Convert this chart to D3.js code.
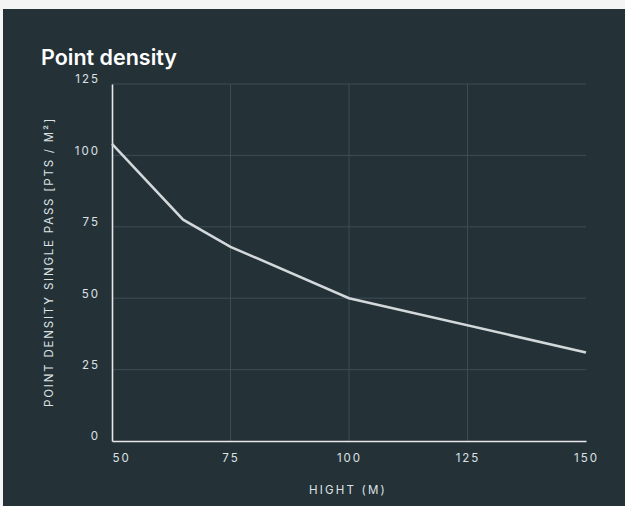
<!DOCTYPE html>
<html>
<head>
<meta charset="utf-8">
<script src="https://cdn.jsdelivr.net/npm/d3@7"></script>
<style>
  html, body { margin: 0; padding: 0; background: #f4f4f4; }
  #chart { position: absolute; left: 3px; top: 9px; }
</style>
</head>
<body>
<div id="chart"></div>
<script>
// hight (m) vs point density single pass
const heights = [50, 65, 75, 100, 150]
const density = [104, 77.5, 68, 50, 31]
const xTicks = [50, 75, 100, 125, 150]
const yTicks = [0, 25, 50, 75, 100, 125]

const width = 622, height = 497
const margin = {left: 109, top: 75, right: 39, bottom: 65}
const g_width = width - margin.left - margin.right
const g_height = height - margin.top - margin.bottom

const svg = d3.select('#chart').append('svg')
    .attr('width', width)
    .attr('height', height)
    .style('display', 'block')

svg.append('rect')
    .attr('width', width).attr('height', height)
    .attr('fill', '#243238')

svg.append('text')
    .attr('x', 38).attr('y', 56)
    .attr('fill', '#ffffff')
    .style('font-family', 'Inter, sans-serif')
    .style('font-weight', 600)
    .style('font-size', '21.5px')
    .text('Point density')

const g = svg.append('g')
    .attr('transform', `translate(${margin.left},${margin.top})`)

const x = d3.scaleLinear().domain([50, 150]).range([0, g_width])
const y = d3.scaleLinear().domain([0, 125]).range([g_height, 0])

// grid
g.selectAll('.hgrid').data(yTicks.filter(d => d > 0)).enter()
    .append('line')
    .attr('x1', 0).attr('x2', g_width)
    .attr('y1', d => y(d)).attr('y2', d => y(d))
    .attr('stroke', '#3d4c54').attr('stroke-width', 1)
g.selectAll('.vgrid').data(xTicks.filter(d => d > 50 && d < 150)).enter()
    .append('line')
    .attr('x1', d => x(d)).attr('x2', d => x(d))
    .attr('y1', 0).attr('y2', g_height)
    .attr('stroke', '#3d4c54').attr('stroke-width', 1)

const tickStyle = s => s
    .attr('fill', '#dde1e3')
    .style('font-family', 'Inter, sans-serif')
    .style('font-size', '11.5px')
    .style('letter-spacing', '2px')

// x axis
const xAxis = g.append('g')
    .attr('transform', `translate(0,${g_height})`)
    .call(d3.axisBottom(x).tickValues(xTicks).tickSize(0).tickPadding(13))
xAxis.select('.domain').attr('stroke', '#e6e8ea').attr('stroke-width', 1.6)
xAxis.selectAll('text').call(tickStyle)
    .attr('text-anchor', d => d === 50 ? 'start' : 'middle')

// y axis
const yAxis = g.append('g')
    .call(d3.axisLeft(y).tickValues(yTicks).tickSize(0).tickPadding(12))
yAxis.select('.domain').attr('stroke', '#e6e8ea').attr('stroke-width', 1.6)
yAxis.selectAll('text').call(tickStyle).attr('dy', '-0.1em')

// axis titles
svg.append('text')
    .attr('x', margin.left + g_width / 2 - 1)
    .attr('y', 485)
    .attr('text-anchor', 'middle')
    .call(tickStyle)
    .style('letter-spacing', '2.2px')
    .text('HIGHT (M)')

svg.append('text')
    .attr('transform', `translate(50,253) rotate(-90)`)
    .attr('text-anchor', 'middle')
    .call(tickStyle)
    .style('letter-spacing', '1.8px')
    .text('POINT DENSITY SINGLE PASS [PTS / M²]')

// line
const data = heights.map((h, i) => ({h: h, v: density[i]}))
g.append('path')
    .datum(data)
    .attr('fill', 'none')
    .attr('stroke', '#d3d8da')
    .attr('stroke-width', 2.5)
    .attr('d', d3.line().x(d => x(d.h)).y(d => y(d.v)))
</script>
</body>
</html>
